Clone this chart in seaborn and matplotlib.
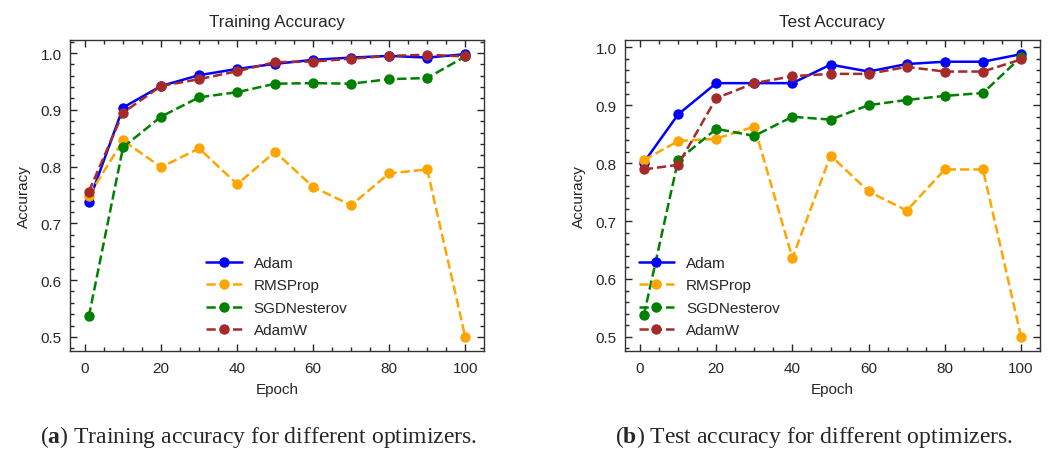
import matplotlib
matplotlib.use("Agg")
import matplotlib.pyplot as plt
from matplotlib.ticker import AutoMinorLocator, MultipleLocator
import seaborn as sns
import pandas as pd

epochs = [1, 10, 20, 30, 40, 50, 60, 70, 80, 90, 100]
optimizers = ["Adam", "RMSProp", "SGDNesterov", "AdamW"]

train_adam = [0.738, 0.904, 0.942, 0.961, 0.972, 0.981, 0.988, 0.992, 0.995, 0.992, 0.998]
train_rmsprop = [0.749, 0.846, 0.799, 0.832, 0.769, 0.826, 0.764, 0.732, 0.788, 0.795, 0.500]
train_sgdn = [0.536, 0.834, 0.888, 0.922, 0.931, 0.946, 0.947, 0.946, 0.954, 0.956, 0.994]
train_adamw = [0.756, 0.895, 0.942, 0.954, 0.968, 0.984, 0.985, 0.990, 0.995, 0.997, 0.994]

test_adam = [0.801, 0.884, 0.938, 0.938, 0.938, 0.970, 0.958, 0.971, 0.975, 0.975, 0.988]
test_rmsprop = [0.805, 0.838, 0.842, 0.863, 0.636, 0.813, 0.751, 0.718, 0.789, 0.789, 0.500]
test_sgdn = [0.537, 0.805, 0.859, 0.847, 0.880, 0.875, 0.900, 0.909, 0.916, 0.921, 0.983]
test_adamw = [0.789, 0.797, 0.912, 0.938, 0.950, 0.954, 0.954, 0.966, 0.958, 0.958, 0.979]

titles = ["Training Accuracy", "Test Accuracy"]
captions = ["a", "b"]
caption_texts = [" Training accuracy for different optimizers.",
                 " Test accuracy for different optimizers."]

colors = {"Adam": "blue", "RMSProp": "orange", "SGDNesterov": "green", "AdamW": "brown"}
styles = {"Adam": "-", "RMSProp": "--", "SGDNesterov": "--", "AdamW": "--"}

sns.set_theme(style="ticks")
plt.rcParams["font.family"] = ["Liberation Sans", "DejaVu Sans"]
plt.rcParams["mathtext.fontset"] = "custom"
plt.rcParams["mathtext.rm"] = "Liberation Serif"
plt.rcParams["mathtext.bf"] = "Liberation Serif:bold"
plt.rcParams["xtick.direction"] = "in"
plt.rcParams["ytick.direction"] = "in"

fig = plt.figure(figsize=(10.53, 4.52), dpi=100)
ax1 = fig.add_axes([0.0665, 0.2212, 0.3932, 0.688])
ax2 = fig.add_axes([0.5935, 0.2212, 0.3941, 0.688])

datasets = [
    {"Adam": train_adam, "RMSProp": train_rmsprop, "SGDNesterov": train_sgdn, "AdamW": train_adamw},
    {"Adam": test_adam, "RMSProp": test_rmsprop, "SGDNesterov": test_sgdn, "AdamW": test_adamw},
]

for ax, data, title in zip([ax1, ax2], datasets, titles):
    for name in optimizers:
        df = pd.DataFrame({"Epoch": epochs, "Accuracy": data[name]})
        sns.lineplot(data=df, x="Epoch", y="Accuracy", ax=ax, color=colors[name],
                     linestyle=styles[name], marker="o", markersize=7.5,
                     markeredgewidth=0, linewidth=1.8, label=name)
    ax.set_title(title, fontsize=12.3, pad=10)
    ax.set_xlabel("Epoch", fontsize=11, labelpad=5)
    ax.set_ylabel("Accuracy", fontsize=11, labelpad=7)
    ax.xaxis.set_major_locator(MultipleLocator(20))
    ax.yaxis.set_major_locator(MultipleLocator(0.1))
    ax.xaxis.set_minor_locator(AutoMinorLocator(4))
    ax.yaxis.set_minor_locator(AutoMinorLocator(5))
    ax.tick_params(which="both", direction="in", top=True, right=True, labelsize=11)
    ax.tick_params(axis="x", which="major", pad=7)
    ax.tick_params(axis="y", which="major", pad=6)
    ax.tick_params(which="major", length=5, width=1)
    ax.tick_params(which="minor", length=3, width=1)
    for sp in ax.spines.values():
        sp.set_linewidth(1)
        sp.set_color("#333333")

ax1.legend(loc="lower center", frameon=False, fontsize=11, handlelength=2.3,
           labelspacing=0.55, bbox_to_anchor=(0.5, 0.0))
ax2.legend(loc="lower left", frameon=False, fontsize=11, handlelength=2.3,
           labelspacing=0.55)

for x, c, t in zip([0.246, 0.773], captions, caption_texts):
    fig.text(x, 0.033, r"(" + r"$\mathbf{" + c + r"}$" + r")" + t,
             ha="center", va="center", fontsize=17, family="Liberation Serif")

fig.savefig("out.png", dpi=100)
